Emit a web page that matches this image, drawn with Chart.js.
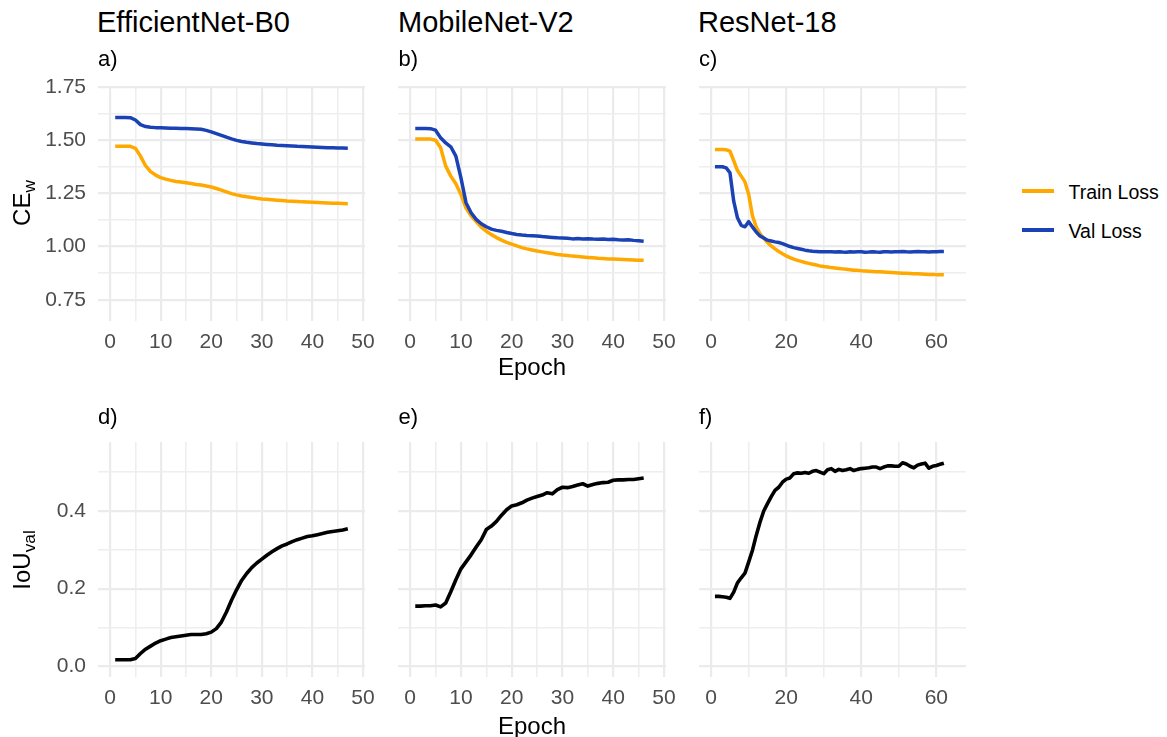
<!DOCTYPE html>
<html><head><meta charset="utf-8">
<script src="https://cdn.jsdelivr.net/npm/chart.js@4.4.1/dist/chart.umd.min.js"></script>
<style>
html,body{margin:0;padding:0;background:#fff;}
body{width:1167px;height:737px;overflow:hidden;position:relative;font-family:'Liberation Sans',Arial,Helvetica,sans-serif;}
canvas{position:absolute;}
.t{position:absolute;white-space:nowrap;color:#000;line-height:1;}
.rot{position:absolute;white-space:nowrap;color:#000;line-height:1;font-size:24px;transform:translate(-50%,-50%) rotate(-90deg);}
.rot sub{font-size:0.72em;vertical-align:-0.28em;line-height:0;}
.key{position:absolute;height:3.5px;width:32px;}
</style></head><body>
<script>
// ---------- DATA ----------
const modelNames = ['EfficientNet-B0', 'MobileNet-V2', 'ResNet-18'];
const panelTags = ['a)', 'b)', 'c)', 'd)', 'e)', 'f)'];
const seriesNames = ['Train Loss', 'Val Loss'];
const xLabel = 'Epoch';

const effTrain = [1.472,1.472,1.472,1.471,1.462,1.425,1.380,1.352,1.336,1.324,1.317,1.311,1.306,1.303,1.300,1.296,1.292,1.289,1.285,1.280,1.273,1.265,1.257,1.249,1.243,1.238,1.234,1.231,1.227,1.224,1.222,1.220,1.218,1.216,1.214,1.213,1.212,1.210,1.209,1.208,1.207,1.206,1.205,1.204,1.203,1.202,1.201];
const effVal = [1.607,1.607,1.607,1.606,1.595,1.573,1.564,1.561,1.559,1.558,1.557,1.556,1.556,1.555,1.555,1.554,1.553,1.551,1.546,1.539,1.531,1.523,1.514,1.506,1.499,1.494,1.490,1.487,1.484,1.482,1.480,1.478,1.476,1.475,1.474,1.473,1.471,1.470,1.469,1.468,1.467,1.466,1.465,1.464,1.463,1.463,1.462];
const mobTrain = [1.506,1.506,1.506,1.505,1.500,1.464,1.378,1.331,1.295,1.245,1.181,1.144,1.117,1.091,1.072,1.056,1.042,1.030,1.020,1.011,1.003,0.995,0.989,0.984,0.979,0.975,0.971,0.967,0.963,0.960,0.958,0.955,0.953,0.951,0.949,0.947,0.945,0.944,0.942,0.941,0.940,0.939,0.938,0.937,0.936,0.935];
const mobVal = [1.555,1.555,1.555,1.554,1.547,1.511,1.487,1.469,1.425,1.323,1.206,1.159,1.128,1.107,1.093,1.082,1.076,1.072,1.066,1.061,1.057,1.054,1.052,1.051,1.050,1.047,1.045,1.043,1.041,1.040,1.039,1.036,1.038,1.036,1.037,1.035,1.034,1.035,1.033,1.034,1.032,1.031,1.032,1.029,1.027,1.025];
const resTrain = [1.456,1.456,1.456,1.455,1.448,1.404,1.357,1.331,1.304,1.245,1.144,1.092,1.061,1.040,1.019,1.003,0.989,0.977,0.966,0.956,0.948,0.941,0.935,0.930,0.925,0.921,0.917,0.913,0.909,0.906,0.904,0.901,0.899,0.897,0.895,0.893,0.891,0.889,0.888,0.886,0.885,0.884,0.883,0.882,0.881,0.880,0.879,0.878,0.877,0.876,0.875,0.874,0.873,0.872,0.872,0.871,0.870,0.869,0.869,0.868,0.868,0.867];
const resVal = [1.375,1.375,1.375,1.370,1.347,1.213,1.135,1.100,1.093,1.117,1.092,1.068,1.050,1.040,1.030,1.026,1.022,1.019,1.014,1.007,1.000,0.995,0.991,0.987,0.983,0.980,0.978,0.977,0.976,0.975,0.976,0.975,0.974,0.976,0.974,0.973,0.975,0.974,0.976,0.975,0.973,0.974,0.976,0.974,0.973,0.975,0.976,0.974,0.975,0.976,0.977,0.975,0.974,0.976,0.977,0.975,0.976,0.974,0.975,0.976,0.977,0.977];
const effIoU = [0.017,0.017,0.017,0.017,0.020,0.033,0.044,0.052,0.060,0.066,0.070,0.074,0.076,0.078,0.080,0.082,0.082,0.082,0.084,0.088,0.097,0.114,0.140,0.170,0.197,0.221,0.239,0.254,0.266,0.276,0.286,0.295,0.303,0.310,0.315,0.321,0.326,0.330,0.334,0.336,0.339,0.342,0.345,0.347,0.349,0.351,0.354];
const mobIoU = [0.155,0.155,0.156,0.156,0.158,0.153,0.163,0.192,0.223,0.251,0.269,0.287,0.307,0.326,0.352,0.361,0.373,0.389,0.403,0.413,0.416,0.421,0.428,0.433,0.437,0.441,0.447,0.444,0.455,0.461,0.460,0.463,0.467,0.470,0.464,0.468,0.471,0.473,0.474,0.479,0.480,0.480,0.481,0.481,0.483,0.485];
const resIoU = [0.180,0.180,0.179,0.178,0.175,0.191,0.215,0.228,0.240,0.269,0.299,0.337,0.371,0.400,0.419,0.437,0.453,0.461,0.474,0.482,0.485,0.496,0.498,0.497,0.499,0.497,0.502,0.504,0.500,0.496,0.506,0.509,0.502,0.507,0.504,0.506,0.509,0.504,0.507,0.509,0.510,0.511,0.513,0.513,0.509,0.513,0.516,0.516,0.515,0.515,0.524,0.521,0.515,0.511,0.518,0.521,0.523,0.510,0.515,0.517,0.520,0.523];

const lossTicks = [0.75, 1.00, 1.25, 1.50, 1.75];
const lossMinor = [0.875, 1.125, 1.375, 1.625];
const iouTicks = [0.0, 0.2, 0.4];
const iouMinor = [0.1, 0.3, 0.5];
const xTicks50 = [0, 10, 20, 30, 40, 50];
const xMinor50 = [5, 15, 25, 35, 45];
const xTicks60 = [0, 20, 40, 60];
const xMinor60 = [10, 30, 50];

// ---------- STYLE / LAYOUT ----------
const ORANGE = '#FFA800', BLUE = '#1A42B5', BLACK = '#000000';
const GRID_MAJ = '#EBEBEB', GRID_MIN = '#EEEEEE';
const cols = [
  {l: 98, r: 365, xmin: -2.4, xmax: 50.4, maj: xTicks50, min: xMinor50},
  {l: 398, r: 666, xmin: -2.4, xmax: 50.4, maj: xTicks50, min: xMinor50},
  {l: 699, r: 966, xmin: -3.25, xmax: 67.9, maj: xTicks60, min: xMinor60}
];
const rows = [
  {t: 86.5, b: 320, ymin: 0.65, ymax: 1.75, maj: lossTicks, min: lossMinor, dec: 2},
  {t: 441.7, b: 676.7, ymin: -0.0275, ymax: 0.5775, maj: iouTicks, min: iouMinor, dec: 1}
];

Chart.defaults.font.family = "'Liberation Sans', Arial, Helvetica, sans-serif";

function pts(arr) { return arr.map((v, i) => ({x: i + 1, y: v})); }

function makeChart(col, row, datasets, showY) {
  const PL = 100, PT = 40, PR = 40, PB = 60;
  const w = col.r - col.l, h = row.b - row.t;
  const cv = document.createElement('canvas');
  cv.width = Math.round(w + PL + PR); cv.height = Math.round(h + PT + PB);
  cv.style.left = (col.l - PL) + 'px'; cv.style.top = (row.t - PT) + 'px';
  cv.style.width = cv.width + 'px'; cv.style.height = cv.height + 'px';
  document.body.appendChild(cv);
  const xAll = col.maj.concat(col.min).sort((a, b) => a - b);
  const yAll = row.maj.concat(row.min).sort((a, b) => a - b);
  const isXMaj = v => col.maj.includes(v);
  const isYMaj = v => row.maj.includes(v);
  new Chart(cv, {
    type: 'line',
    data: {datasets},
    options: {
      responsive: false, animation: false, devicePixelRatio: 1,
      layout: {padding: {left: 0, top: PT, right: PR, bottom: 0}},
      plugins: {legend: {display: false}, tooltip: {enabled: false}, title: {display: false}},
      elements: {point: {radius: 0}, line: {tension: 0, borderCapStyle: 'butt', borderJoinStyle: 'round'}},
      scales: {
        x: {
          type: 'linear', min: col.xmin, max: col.xmax,
          afterBuildTicks: s => { s.ticks = xAll.map(v => ({value: v})); },
          afterFit: s => { s.height = PB; },
          ticks: {autoSkip: false, maxRotation: 0, minRotation: 0, padding: 9, color: '#4D4D4D',
                  font: {size: 21}, callback: v => isXMaj(v) ? String(v) : ''},
          grid: {drawTicks: false,
                 color: c => (c.tick && isXMaj(c.tick.value)) ? GRID_MAJ : GRID_MIN,
                 lineWidth: c => (c.tick && isXMaj(c.tick.value)) ? 2.2 : 1.6},
          border: {display: false}
        },
        y: {
          type: 'linear', min: row.ymin, max: row.ymax,
          afterBuildTicks: s => { s.ticks = yAll.map(v => ({value: v})); },
          afterFit: s => { s.width = PL; },
          ticks: {display: showY, autoSkip: false, padding: 12, color: '#4D4D4D', font: {size: 21},
                  callback: v => isYMaj(v) ? v.toFixed(row.dec) : ''},
          grid: {drawTicks: false,
                 color: c => (c.tick && isYMaj(c.tick.value)) ? GRID_MAJ : GRID_MIN,
                 lineWidth: c => (c.tick && isYMaj(c.tick.value)) ? 2.2 : 1.6},
          border: {display: false}
        }
      }
    }
  });
}

function lossSets(tr, va) {
  return [
    {label: seriesNames[0], data: pts(tr), borderColor: ORANGE, borderWidth: 3.5, order: 2, fill: false},
    {label: seriesNames[1], data: pts(va), borderColor: BLUE, borderWidth: 3.5, order: 1, fill: false}
  ];
}
function iouSet(v) {
  return [{label: 'IoU', data: pts(v), borderColor: BLACK, borderWidth: 3.6, fill: false}];
}

makeChart(cols[0], rows[0], lossSets(effTrain, effVal), true);
makeChart(cols[1], rows[0], lossSets(mobTrain, mobVal), false);
makeChart(cols[2], rows[0], lossSets(resTrain, resVal), false);
makeChart(cols[0], rows[1], iouSet(effIoU), true);
makeChart(cols[1], rows[1], iouSet(mobIoU), false);
makeChart(cols[2], rows[1], iouSet(resIoU), false);

// ---------- TEXT ----------
function txt(s, left, top, size, extra) {
  const d = document.createElement('div');
  d.className = 't';
  d.textContent = s;
  d.style.left = left + 'px'; d.style.top = top + 'px'; d.style.fontSize = size + 'px';
  if (extra) Object.assign(d.style, extra);
  document.body.appendChild(d);
  return d;
}
const titleLefts = [97, 398, 698];
modelNames.forEach((m, i) => txt(m, titleLefts[i], 7.5, 29));
const tagLefts = [98, 398.5, 699];
panelTags.forEach((t, i) => txt(t, tagLefts[i % 3], i < 3 ? 47.5 : 405.5, 22));
txt(xLabel, 532, 354.5, 24, {transform: 'translateX(-50%)'});
txt(xLabel, 532, 713.5, 24, {transform: 'translateX(-50%)'});

function rotLabel(main, sub, cx, cy) {
  const d = document.createElement('div');
  d.className = 'rot';
  d.style.left = cx + 'px'; d.style.top = cy + 'px';
  d.appendChild(document.createTextNode(main));
  const s = document.createElement('sub'); s.textContent = sub; d.appendChild(s);
  document.body.appendChild(d);
}
rotLabel('CE', 'w', 21.5, 202.5);
rotLabel('IoU', 'val', 21.5, 560);

// legend
const keyColors = [ORANGE, BLUE];
const keyY = [191, 230];
seriesNames.forEach((n, i) => {
  const k = document.createElement('div');
  k.className = 'key';
  k.style.left = '1022px'; k.style.top = (keyY[i] - 1.75) + 'px'; k.style.background = keyColors[i];
  document.body.appendChild(k);
  txt(n, 1068.5, keyY[i] - 8.5, 19.5);
});
</script>
</body></html>
